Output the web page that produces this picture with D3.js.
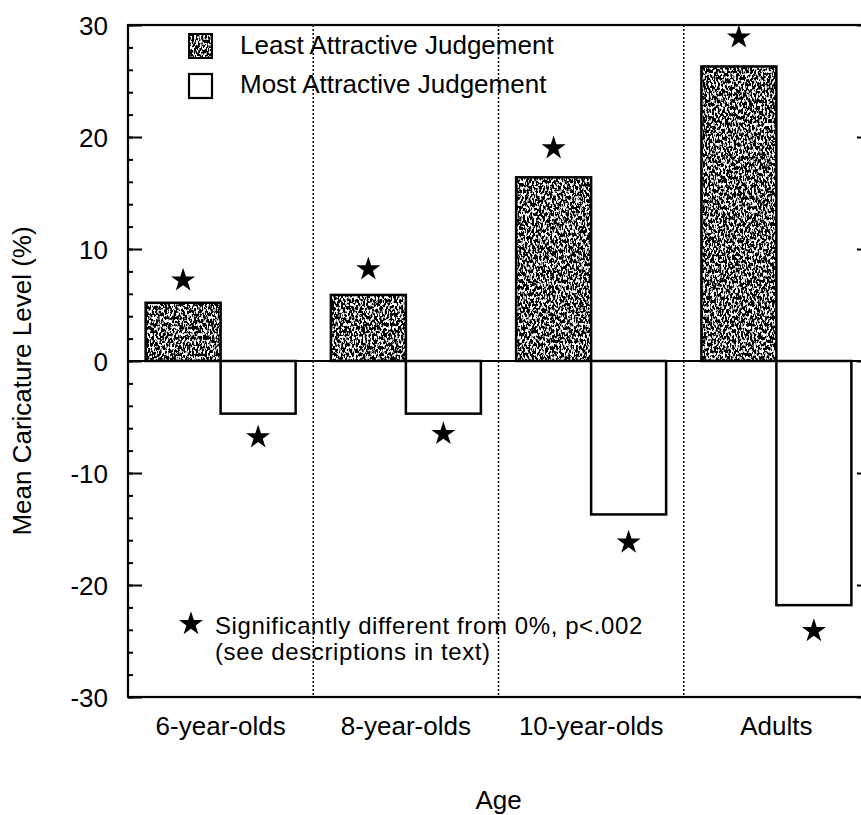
<!DOCTYPE html>
<html>
<head>
<meta charset="utf-8">
<script src="https://cdn.jsdelivr.net/npm/d3@7/dist/d3.min.js"></script>
<style>
  html, body { margin: 0; padding: 0; background: #fff; }
  svg { display: block; }
  text { font-family: "Liberation Sans", Arial, Helvetica, sans-serif; fill: #000; }
</style>
</head>
<body>
<svg id="chart" width="861" height="815"></svg>
<script>
// ---- data ----
const categories = ["6-year-olds", "8-year-olds", "10-year-olds", "Adults"];
const seriesNames = ["Least Attractive Judgement", "Most Attractive Judgement"];
const leastValues = [5.2, 5.9, 16.4, 26.3];
const mostValues = [-4.7, -4.7, -13.7, -21.8];
// positions of the significance stars (in axis units)
const leastStars = [7.2, 8.2, 19.0, 28.9];
const mostStars = [-6.8, -6.5, -16.2, -24.1];
const yTicks = [-30, -20, -10, 0, 10, 20, 30];
const yTitle = "Mean Caricature Level (%)";
const xTitle = "Age";
const noteLines = ["Significantly different from 0%, p<.002", "(see descriptions in text)"];

(function () {
const svg = d3.select("#chart");
const pL = 128, pR = 869, pT = 25, pB = 697;

// texture filter for the "least" bars
const defs = svg.append("defs");
const f = defs.append("filter").attr("id", "stipple")
  .attr("x", 0).attr("y", 0).attr("width", 1).attr("height", 1);
f.append("feTurbulence").attr("type", "fractalNoise")
  .attr("baseFrequency", "0.55 0.3").attr("numOctaves", 2).attr("seed", 7).attr("result", "noise");
f.append("feColorMatrix").attr("in", "noise").attr("type", "matrix")
  .attr("values", "0 0 0 0 1  0 0 0 0 1  0 0 0 0 1  9 0 0 0 -4.4").attr("result", "specks");
f.append("feComposite").attr("in", "specks").attr("in2", "SourceAlpha").attr("operator", "in").attr("result", "clipped");
const fm = f.append("feMerge");
fm.append("feMergeNode").attr("in", "SourceGraphic");
fm.append("feMergeNode").attr("in", "clipped");

const x = d3.scaleBand().domain(categories).range([pL, pR]).padding(0);
const xs = d3.scaleBand().domain(seriesNames).range([0, x.bandwidth()]).paddingInner(0).paddingOuter(0.235);
const y = d3.scaleLinear().domain([-30, 30]).range([pB, pT]);

// dotted group separators
svg.append("g").selectAll("line")
  .data(categories.slice(1))
  .join("line")
  .attr("x1", d => x(d)).attr("x2", d => x(d))
  .attr("y1", pT).attr("y2", pB)
  .attr("stroke", "#000").attr("stroke-width", 1.5)
  .attr("stroke-dasharray", "2,2");

const least = categories.map((c, i) => ({c, v: leastValues[i], s: leastStars[i], k: seriesNames[0]}));
const most = categories.map((c, i) => ({c, v: mostValues[i], s: mostStars[i], k: seriesNames[1]}));

svg.append("g").selectAll("rect")
  .data(least).join("rect")
  .attr("x", d => x(d.c) + xs(d.k))
  .attr("width", xs.bandwidth())
  .attr("y", d => y(Math.max(0, d.v)))
  .attr("height", d => Math.abs(y(d.v) - y(0)))
  .attr("fill", "#000")
  .attr("filter", "url(#stipple)");
svg.append("g").selectAll("rect")
  .data(least).join("rect")
  .attr("x", d => x(d.c) + xs(d.k))
  .attr("width", xs.bandwidth())
  .attr("y", d => y(Math.max(0, d.v)))
  .attr("height", d => Math.abs(y(d.v) - y(0)))
  .attr("fill", "none").attr("stroke", "#000").attr("stroke-width", 2.5);

svg.append("g").selectAll("rect")
  .data(most).join("rect")
  .attr("x", d => x(d.c) + xs(d.k))
  .attr("width", xs.bandwidth())
  .attr("y", d => y(Math.max(0, d.v)))
  .attr("height", d => Math.abs(y(d.v) - y(0)))
  .attr("fill", "#fff").attr("stroke", "#000").attr("stroke-width", 2.5);

// zero line
svg.append("line")
  .attr("x1", pL).attr("x2", pR)
  .attr("y1", y(0)).attr("y2", y(0))
  .attr("stroke", "#000").attr("stroke-width", 2.2);

// stars
const star = d3.symbol().type(d3.symbolStar).size(180);
svg.append("g").selectAll("path")
  .data(least.concat(most)).join("path")
  .attr("d", star)
  .attr("transform", d => `translate(${x(d.c) + xs(d.k) + xs.bandwidth() / 2},${y(d.s)})`)
  .attr("fill", "#000");

// frame
svg.append("rect")
  .attr("x", pL).attr("y", pT)
  .attr("width", pR - pL).attr("height", pB - pT)
  .attr("fill", "none").attr("stroke", "#000").attr("stroke-width", 2.2);

// left axis (major + minor, inward ticks)
const minorTicks = d3.range(-30, 31, 2);
svg.append("g").attr("transform", `translate(${pL},0)`)
  .call(d3.axisLeft(y).tickValues(minorTicks).tickSize(-5).tickFormat(""))
  .call(g => g.select(".domain").remove())
  .call(g => g.selectAll("line").attr("stroke-width", 2));
svg.append("g").attr("transform", `translate(${pL},0)`)
  .call(d3.axisLeft(y).tickValues(yTicks).tickSize(-14).tickPadding(20).tickFormat(d3.format("d")))
  .call(g => g.select(".domain").remove())
  .call(g => g.selectAll("line").attr("stroke-width", 2))
  .call(g => g.selectAll("text")
    .style("font-size", "26px")
    .style("font-family", "'Liberation Sans', Arial, sans-serif")
    .attr("fill", "#000").attr("dy", "0.35em")
    .text(d => d < 0 ? "-" + Math.abs(d) : d));

// right axis (inward ticks)
svg.append("g").attr("transform", `translate(${pR},0)`)
  .call(d3.axisRight(y).tickValues(minorTicks).tickSize(-5).tickFormat(""))
  .call(g => g.select(".domain").remove())
  .call(g => g.selectAll("line").attr("stroke-width", 2));
svg.append("g").attr("transform", `translate(${pR},0)`)
  .call(d3.axisRight(y).tickValues(yTicks).tickSize(-12).tickFormat(""))
  .call(g => g.select(".domain").remove())
  .call(g => g.selectAll("line").attr("stroke-width", 2));

// x category labels
svg.append("g").attr("transform", `translate(0,${pB})`)
  .call(d3.axisBottom(x).tickSize(0).tickPadding(0))
  .call(g => g.select(".domain").remove())
  .call(g => g.selectAll("text")
    .style("font-size", "26px")
    .style("font-family", "'Liberation Sans', Arial, sans-serif")
    .attr("fill", "#000")
    .attr("y", 38).attr("dy", 0));

// axis titles
svg.append("text")
  .attr("transform", `translate(${(pL + pR) / 2},809)`)
  .attr("text-anchor", "middle")
  .style("font-size", "26px")
  .text(xTitle);
svg.append("text")
  .attr("transform", `translate(31,381) rotate(-90)`)
  .attr("text-anchor", "middle")
  .style("font-size", "26px")
  .text(yTitle);

// legend
const legend = svg.append("g");
legend.append("rect").attr("x", 189).attr("y", 34).attr("width", 23).attr("height", 24)
  .attr("fill", "#000").attr("filter", "url(#stipple)");
legend.append("rect").attr("x", 189).attr("y", 34).attr("width", 23).attr("height", 24)
  .attr("fill", "none").attr("stroke", "#000").attr("stroke-width", 2);
legend.append("rect").attr("x", 189).attr("y", 74).attr("width", 23).attr("height", 24)
  .attr("fill", "#fff").attr("stroke", "#000").attr("stroke-width", 2.2);
legend.selectAll("text.lg").data(seriesNames).join("text")
  .attr("class", "lg")
  .attr("x", 240).attr("y", (d, i) => 54 + i * 39)
  .style("font-size", "26px")
  .text(d => d);

// note
svg.append("path").attr("d", d3.symbol().type(d3.symbolStar).size(180))
  .attr("transform", "translate(191,624)").attr("fill", "#000");
svg.selectAll("text.note").data(noteLines).join("text")
  .attr("class", "note")
  .attr("x", 215).attr("y", (d, i) => 634 + i * 26)
  .style("font-size", "24px")
  .style("letter-spacing", "0.6px")
  .text(d => d);
})();
</script>
</body>
</html>
